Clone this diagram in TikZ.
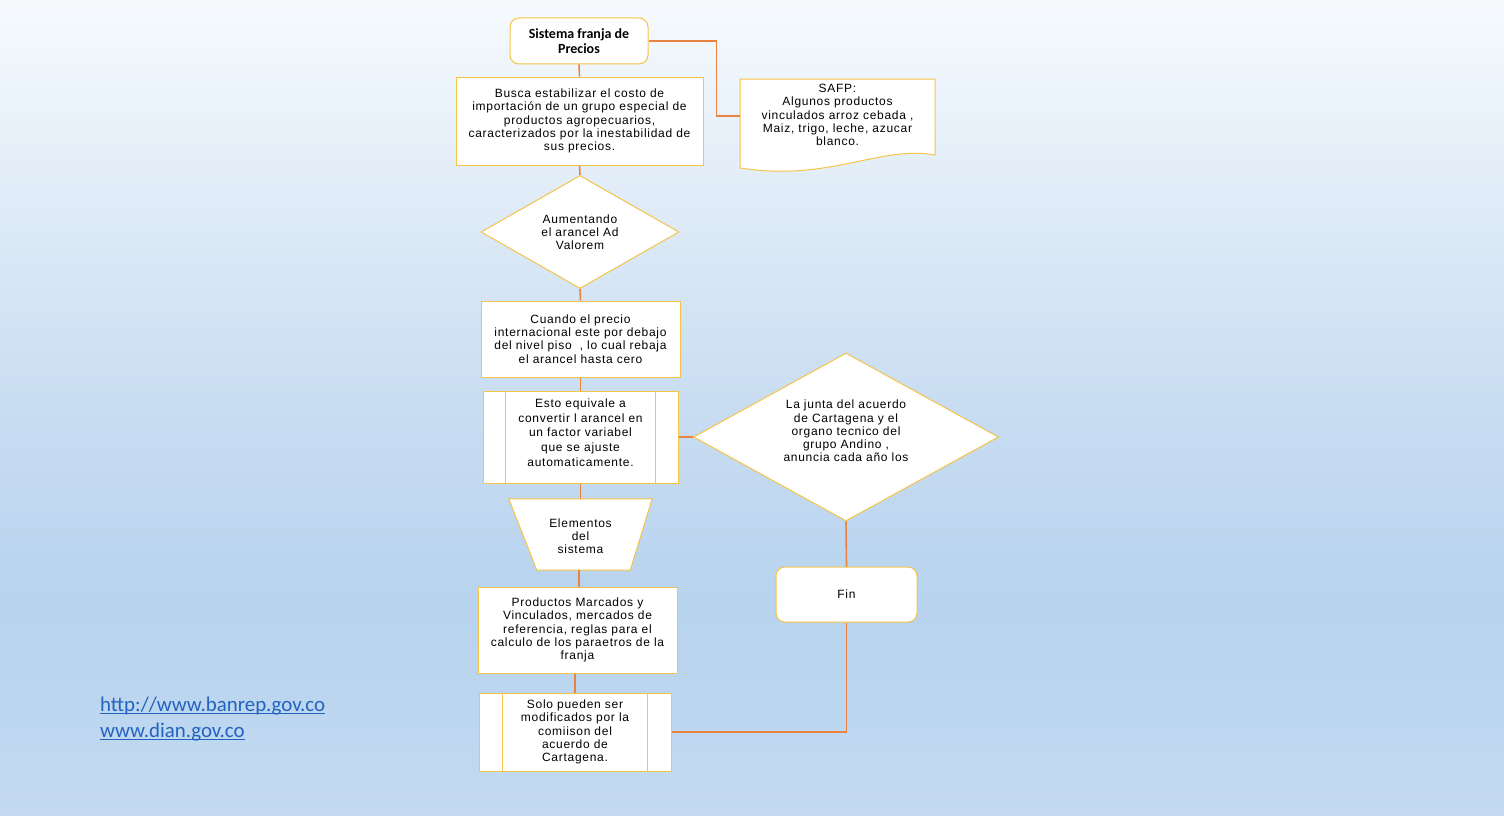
\documentclass[tikz,border=0pt]{standalone}
\usepackage{fontspec}
\setmainfont{Liberation Sans}
\newfontfamily\boxfont[LetterSpace=6]{Liberation Sans}
\newfontfamily\calfont{Carlito}
\usetikzlibrary{shapes.geometric}
\definecolor{bgtop}{HTML}{F6FAFD}
\definecolor{bgmid}{HTML}{C9DDF2}
\definecolor{bglow}{HTML}{B8D3EE}
\definecolor{bgbot}{HTML}{C3DAF1}
\definecolor{boxline}{HTML}{F5C447}
\definecolor{linkorange}{HTML}{E8843F}
\definecolor{urlblue}{HTML}{2263C0}
\pgfdeclareverticalshading{bgfade}{100bp}{color(0bp)=(bgbot); color(25bp)=(bgbot); color(38bp)=(bglow); color(50.5bp)=(bgmid); color(75bp)=(bgtop); color(100bp)=(bgtop)}

\begin{document}
\begin{tikzpicture}[
    x=1pt,y=-1pt,
    box/.style={draw=boxline,fill=white,line width=1pt,align=center,inner sep=0pt,
        font=\boxfont\fontsize{12}{13.2}\selectfont},
    term/.style={box,rounded corners=9pt},
    dec/.style={box,diamond},
    link/.style={draw=linkorange,line width=1.6pt},
    web/.style={anchor=base west,inner sep=0pt,text=urlblue,font=\calfont\fontsize{20.9}{27}\selectfont}
]
    % Background
    \shade[shading=bgfade] (0,0) rectangle (1504,816);
    \useasboundingbox (0,0) rectangle (1504,816);

    % Main column
    \node[term,minimum width=138,minimum height=46,font=\calfont\bfseries\fontsize{14}{14.5}\selectfont] (start) at (579,41) {Sistema franja de\\Precios};
    \node[box,minimum width=247,minimum height=88] (busca) at (579.5,121) {Busca estabilizar el costo de\\importación de un grupo especial de\\productos agropecuarios,\\caracterizados por la inestabilidad de\\sus precios.};
    \node[dec,minimum width=198,minimum height=113,aspect=1.75] (aum) at (580,232) {Aumentando\\el arancel Ad\\Valorem};
    \node[box,minimum width=199,minimum height=76] (cuando) at (580.5,339) {Cuando el precio\\internacional este por debajo\\del nivel piso\ \ , lo cual rebaja\\el arancel hasta cero};
    \node[box,minimum width=195,minimum height=92] (esto) at (580.5,437) {Esto equivale a\\[1.5pt]convertir l arancel en\\[1.5pt]un factor variabel\\[1.5pt]que se ajuste\\[1.5pt]automaticamente.\\[-4.2pt]};
    \draw[boxline,line width=1pt] ([xshift=23pt]esto.north west) -- ([xshift=23pt]esto.south west);
    \draw[boxline,line width=1pt] ([xshift=-23pt]esto.north east) -- ([xshift=-23pt]esto.south east);

    % Trapezoid
    \node[minimum width=143,minimum height=71,inner sep=0pt,align=center,font=\boxfont\fontsize{12}{13.2}\selectfont] (elem) at (580.5,534.5) {};
    \draw[boxline,fill=white,line width=1pt] (elem.north west) -- (elem.north east) -- ([xshift=-22pt]elem.south east) -- ([xshift=28pt]elem.south west) -- cycle;
    \node[align=center,inner sep=0pt,font=\boxfont\fontsize{12}{13.2}\selectfont] (elemtxt) at (580.5,536) {Elementos\\del\\sistema};

    \node[box,minimum width=199,minimum height=86] (prod) at (577.5,630) {Productos Marcados y\\Vinculados, mercados de\\referencia, reglas para el\\calculo de los paraetros de la\\franja};
    \node[box,minimum width=192,minimum height=78] (solo) at (575,732) {Solo pueden ser\\modificados por la\\comiison del\\acuerdo de\\Cartagena.};
    \draw[boxline,line width=1pt] ([xshift=24pt]solo.north west) -- ([xshift=24pt]solo.south west);
    \draw[boxline,line width=1pt] ([xshift=-24pt]solo.north east) -- ([xshift=-24pt]solo.south east);

    % Side column
    \draw[boxline,fill=white,line width=1pt] (740,79) -- (935,79) -- (935,155) .. controls (880,145) and (830,182) .. (740,168) -- cycle;
    \node[align=center,inner sep=0pt,font=\boxfont\fontsize{12}{13.2}\selectfont] (safp) at (837.5,115) {SAFP:\\Algunos productos\\vinculados arroz cebada ,\\Maiz, trigo, leche, azucar\\blanco.};
    \coordinate (safpin) at (740,116);
    \node[dec,minimum width=305,minimum height=168,aspect=1.82] (junta) at (846,437) {La junta del acuerdo\\de Cartagena y el\\organo tecnico del\\grupo Andino ,\\anuncia cada año los\\[-1.2pt]};
    \node[term,minimum width=141,minimum height=55] (fin) at (846.5,594.5) {Fin};

    % Connectors
    \draw[link] (start.south) -- (busca.north);
    \draw[link] (busca.south) -- (aum.north);
    \draw[link] (aum.south) -- (cuando.north);
    \draw[link] (cuando.south) -- (esto.north);
    \draw[link] (esto.south) -- (elem.north);
    \draw[link] ([xshift=-1.5pt]elem.south) -- ([xshift=-1.5pt]elem.south |- prod.north);
    \draw[link] (solo.north |- prod.south) -- (solo.north);
    \draw[link] (start.east) -- ++(68,0) |- (safpin);
    \draw[link] (esto.east) -- (junta.west);
    \draw[link] (junta.south) -- (fin.north);
    \draw[link] (fin.south) |- (solo.east);

    % Sources
    \node[web] (web1) at (100,711) {http://www.banrep.gov.co};
    \node[web] (web2) at (100,737) {www.dian.gov.co};
    \draw[urlblue,line width=1pt] ([yshift=-2pt]web1.base west) -- ([yshift=-2pt]web1.base east);
    \draw[urlblue,line width=1pt] ([yshift=-2pt]web2.base west) -- ([yshift=-2pt]web2.base east);
\end{tikzpicture}
\end{document}
